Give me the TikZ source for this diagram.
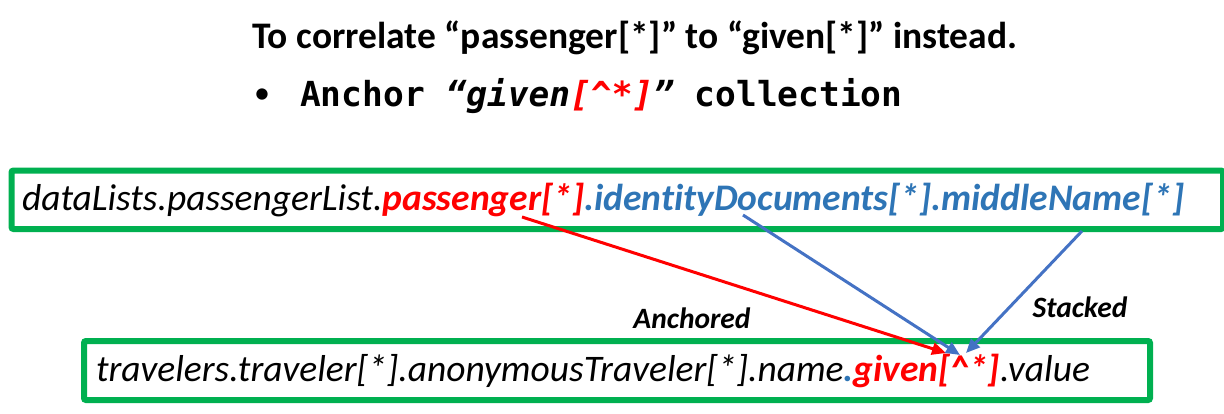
\documentclass[tikz,border=0pt]{standalone}
\usepackage{fontspec}
\setmainfont{Carlito}[Ligatures={NoCommon}]
\newfontfamily\monofont{DejaVu Sans Mono}
\usetikzlibrary{arrows.meta}
\definecolor{boxgreen}{HTML}{00B050}
\definecolor{txtblue}{HTML}{2E75B6}
\definecolor{lineblue}{HTML}{4472C4}
\definecolor{pred}{HTML}{FF0000}
\tikzset{
  pathbox/.style={draw=boxgreen, line width=6pt, rounded corners=2pt, anchor=north west,
    inner xsep=0pt, inner ysep=0pt, align=left, font=\fontsize{37.5}{44}\selectfont\itshape},
  conn/.style={line width=3pt, -{Triangle[length=14pt,width=12pt]}, shorten >=0pt},
  lbl/.style={font=\fontsize{29.5}{34}\selectfont\bfseries\itshape, text=black}
}
\begin{document}
\begin{tikzpicture}[x=1pt,y=1pt]
\useasboundingbox (0,0) rectangle (1224,-413);
% heading
\node[font=\fontsize{37.5}{44}\selectfont\bfseries, anchor=center] (title) at (635,-38)
  {To correlate “passenger[*]” to “given[*]” instead.};
\node[font=\fontsize{32}{38}\selectfont, anchor=center] (bullet) at (262,-96) {•};
\node[font=\fontsize{34.5}{40}\selectfont\monofont\bfseries, anchor=west, inner sep=0pt] (anchorline) at (300,-96)
  {Anchor \textit{“given\textcolor{pred}{[\^{}*]}”} collection};
% boxes
\node[pathbox, minimum width=1211.5pt, minimum height=58.5pt, text width=1211.5pt] (top) at (8.5,-167.5)
  {\hspace*{10.5pt}dataLists.passengerList.\textcolor{pred}{\bfseries passenger[*]}\textcolor{txtblue}{\bfseries .identityDocuments[*].middleName[*]}};
\node[pathbox, minimum width=1066pt, minimum height=59pt, text width=1066pt] (bot) at (81,-338)
  {\hspace*{12pt}travelers.traveler[*].anonymousTraveler[*].name\textcolor{txtblue}{\bfseries .}\textcolor{pred}{\bfseries given[\^{}*]}.value};
% connector end points
\coordinate (rs) at (522,-217);
\coordinate (re) at (946,-353);
\coordinate (b1s) at (743,-215);
\coordinate (b1e) at (960,-355);
\coordinate (b2s) at (1082,-231);
\coordinate (b2e) at (966,-353);
\draw[conn, draw=pred, fill=pred] (rs) -- (re);
\draw[conn, draw=lineblue, fill=lineblue] (b1s) -- (b1e);
\draw[conn, draw=lineblue, fill=lineblue] (b2s) -- (b2e);
\node[lbl] (anch) at (692,-318) {Anchored};
\node[lbl] (stk) at (1080,-307) {Stacked};
\end{tikzpicture}
\end{document}
